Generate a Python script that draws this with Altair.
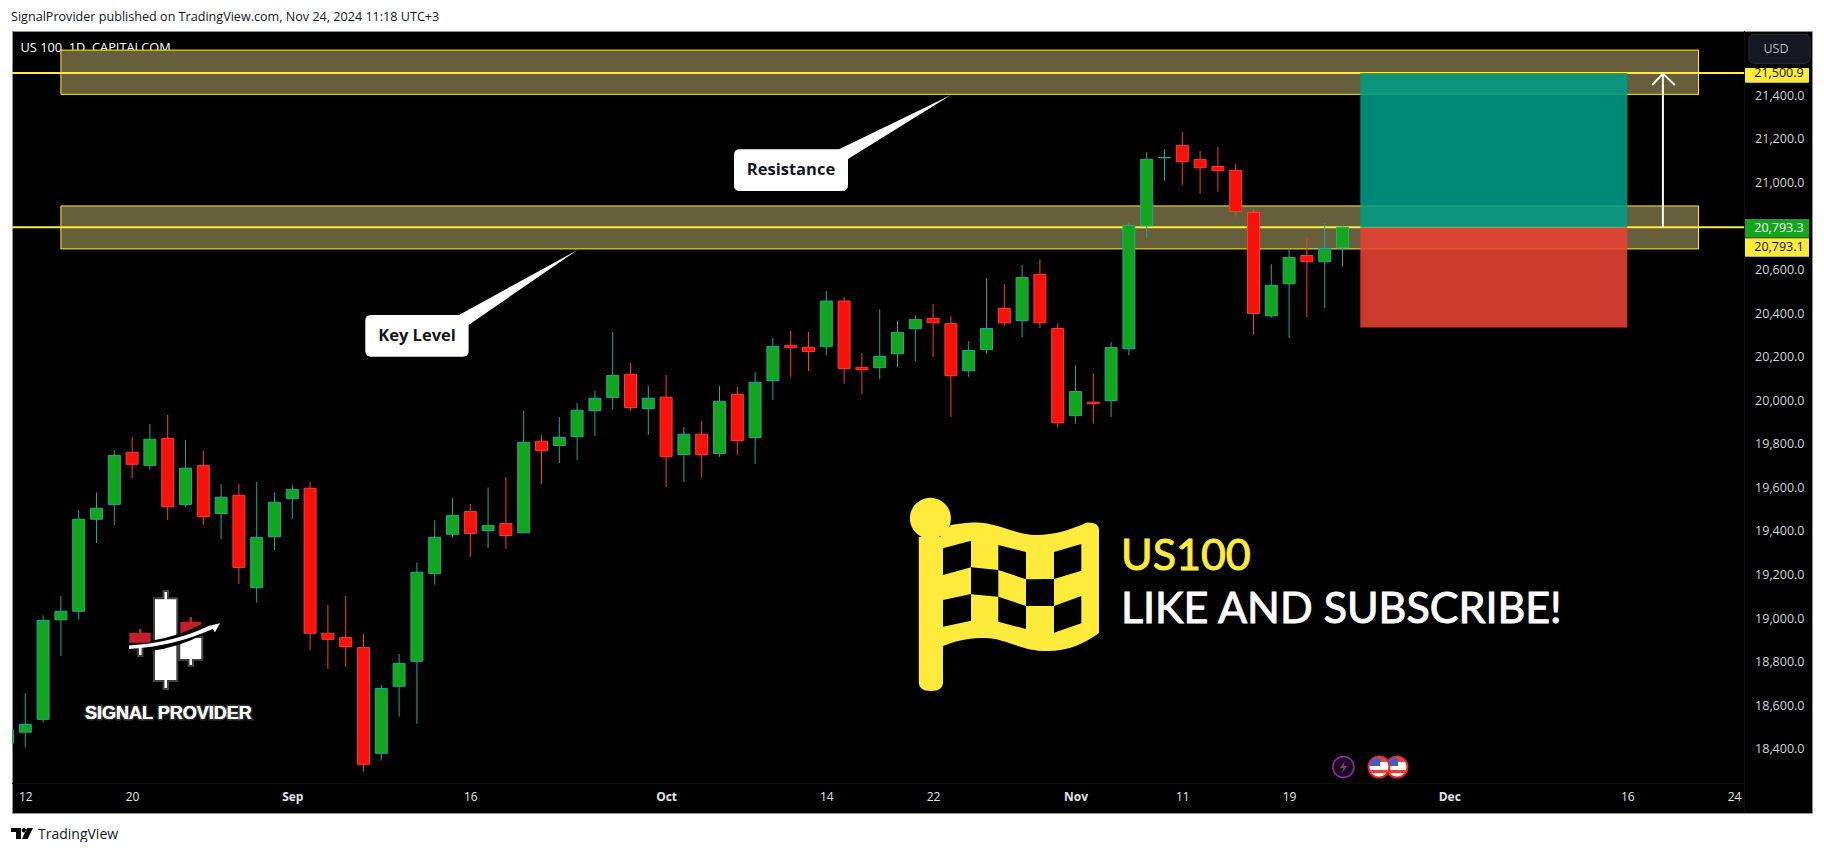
import altair as alt
import pandas as pd

# ---------- data ----------
day_index = list(range(-1, 75))
opens = [18426,18477,18536,18993,19032,19454,19522,19761,19701,19825,19522,19701,19480,19564,19140,19374,19548,19596,18931,18912,18866,18380,18688,18802,19204,19385,19490,19402,19435,19392,19812,19792,19833,19952,20012,20119,19962,20014,19751,19844,19755,20027,19829,20090,20252,20243,20247,20455,20151,20149,20213,20328,20375,20352,20135,20232,20421,20365,20577,20329,19929,19991,19998,20236,20800,21112,21169,21105,21072,21054,20861,20387,20534,20664,20635,20699]
highs = [18510,18655,19013,19102,19495,19577,19770,19831,19891,19932,19818,19767,19616,19616,19625,19577,19611,19625,19061,19102,18928,18694,18836,19256,19449,19551,19524,19600,19648,19951,19841,19923,19988,20043,20313,20171,20066,20116,19877,19905,20066,20061,20130,20286,20318,20313,20501,20473,20217,20417,20363,20389,20441,20386,20271,20560,20533,20620,20647,20352,20160,20124,20267,20817,21138,21152,21230,21143,21161,21083,20877,20624,20696,20748,20813,20800]
lows = [18400,18406,18521,18827,18993,19345,19428,19643,19681,19451,19512,19428,19363,19157,19071,19313,19455,18854,18767,18776,18296,18347,18548,18516,19154,19370,19282,19322,19318,19392,19616,19712,19726,19836,19960,19951,19841,19602,19625,19644,19740,19749,19708,20001,20107,20134,20205,20076,20029,20097,20152,20180,20198,19923,20108,20213,20342,20290,20331,19874,19892,19892,19923,20207,20745,21007,20988,20947,20956,20842,20300,20378,20285,20381,20423,20612]
closes = [18487,18513,18990,19032,19454,19504,19747,19706,19821,19512,19688,19466,19555,19233,19371,19532,19591,18931,18903,18870,18330,18678,18793,19211,19371,19472,19389,19426,19379,19807,19769,19830,19954,20009,20114,19966,20009,19741,19844,19751,19995,19815,20082,20247,20241,20223,20455,20145,20140,20201,20311,20371,20355,20112,20228,20329,20355,20563,20355,19897,20040,19984,20242,20802,21105,21114,21094,21066,21053,20866,20398,20527,20655,20635,20696,20793]

x_ticks = [0,6,15,25,36,45,51,59,65,71,80,90,96]
x_labels = ["12","20","Sep","16","Oct","14","22","Nov","11","19","Dec","16","24"]
month_ticks = [15,36,59,80]
y_ticks = [18400,18600,18800,19000,19200,19400,19600,19800,20000,20200,20400,20600,21000,21200,21400]

zone_left, zone_right = 2, 94
zone_tops = [21606, 20891]
zone_bottoms = [21403, 20694]
level_prices = [21500.9, 20793.3]
pane_left, pane_right = -0.747, 96.56
pos_left, pos_right = 75, 90
pos_target, pos_entry, pos_stop = 21500.9, 20793.3, 20333
arrow_x = [91.4, 92, 92.67]
arrow_y = [21446, 21498, 21446]

# ---------- style ----------
UI = "Open Sans"
YEL = "#FFEB3B"
one = pd.DataFrame({"a": [0]})
X0, Y0 = 12, 31
xs = alt.Scale(domain=[-0.747, 100.376], nice=False, zero=False, padding=0)
ys = alt.Scale(domain=[18106.4, 21693.6], nice=False, zero=False)

def circ(x, y, r):
    return f"M{x-r},{y} A{r},{r} 0 1 0 {x+r},{y} A{r},{r} 0 1 0 {x-r},{y} Z"

def shape(path, fill=None, stroke=None, sw=0.0, opacity=1.0):
    kw = dict(shape=path, size=4, opacity=opacity, strokeWidth=sw)
    if fill:
        kw.update(filled=True, fill=fill)
    else:
        kw.update(filled=False)
    if stroke:
        kw.update(stroke=stroke)
    else:
        kw.update(strokeOpacity=0)
    return alt.Chart(one).mark_point(**kw).encode(x=alt.value(-X0), y=alt.value(-Y0))

def text(t, x, y, size, color, weight="normal", font=UI, align="left", baseline="alphabetic", **kw):
    return alt.Chart(one).mark_text(text=t, fontSize=size, color=color, fontWeight=weight, font=font,
                                    align=align, baseline=baseline, **kw).encode(
        x=alt.value(x - X0), y=alt.value(y - Y0))

def box(x1, y1, x2, y2, fill, **kw):
    return alt.Chart(one).mark_rect(fill=fill, **kw).encode(
        x=alt.value(x1 - X0), x2=alt.value(x2 - X0), y=alt.value(y1 - Y0), y2=alt.value(y2 - Y0))

# every layer carries the same axis: Vega-Lite drops a shared axis if one layer has axis=None
x_axis = alt.Axis(values=x_ticks, title=None, grid=False, ticks=False, domain=False,
                  labelExpr="[" + ",".join(f"'{l}'" for l in x_labels) + "][indexof([" + ",".join(map(str, x_ticks)) + "],datum.value)]",
                  labelColor="#E3E5EA", labelFont=UI, labelFontSize=12, labelPadding=-22, labelOverlap=False, labelFlush=False,
                  labelFontWeight={"condition": {"test": "indexof([" + ",".join(map(str, month_ticks)) + "],datum.value)>=0", "value": "bold"}, "value": "normal"})
y_axis = alt.Axis(values=y_ticks, title=None, grid=False, ticks=False, domain=False, orient="right",
                  format=",.1f", labelAlign="right", labelPadding=-8, labelColor="#D1D4DC", labelFont=UI,
                  labelFontSize=12.5, labelOverlap=False, labelFlush=False)
XQ = lambda f: alt.X(f, scale=xs, axis=x_axis)
YQ = lambda f: alt.Y(f, scale=ys, axis=y_axis)

# ---------- candles ----------
df = pd.DataFrame({"i": day_index, "o": opens, "h": highs, "l": lows, "c": closes})
df["dir"] = ["up" if c >= o else "down" for o, c in zip(opens, closes)]
fills = alt.Scale(domain=["up", "down"], range=["#12A51D", "#F7130B"])
edges = alt.Scale(domain=["up", "down"], range=["#22A696", "#FF3B30"])

wicks = alt.Chart(df).mark_rule(strokeWidth=1, clip=True).encode(
    x=XQ("i:Q"), y=YQ("l:Q"), y2="h:Q",
    stroke=alt.Stroke("dir:N", scale=edges, legend=None))
bodies = alt.Chart(df).mark_bar(size=12, strokeWidth=1, clip=True).encode(
    x=XQ("i:Q"), y=YQ("o:Q"), y2="c:Q",
    fill=alt.Fill("dir:N", scale=fills, legend=None),
    stroke=alt.Stroke("dir:N", scale=edges, legend=None))

# ---------- drawings ----------
zones = alt.Chart(pd.DataFrame({"t": zone_tops, "b": zone_bottoms, "l": [zone_left]*2, "r": [zone_right]*2})).mark_rect(
    fill="#655F3C", stroke=YEL, strokeWidth=1).encode(x=XQ("l:Q"), x2="r:Q", y=YQ("t:Q"), y2="b:Q")
levels = alt.Chart(pd.DataFrame({"p": level_prices, "l": [pane_left]*2, "r": [pane_right]*2})).mark_rule(
    stroke=YEL, strokeWidth=2).encode(x=XQ("l:Q"), x2="r:Q", y=YQ("p:Q"))
def pos_rect(top, bottom, color):
    d = pd.DataFrame({"l": [pos_left], "r": [pos_right], "t": [top], "b": [bottom]})
    return alt.Chart(d).mark_rect(fill=color, opacity=0.88).encode(x=XQ("l:Q"), x2="r:Q", y=YQ("t:Q"), y2="b:Q")
position = [pos_rect(pos_target, pos_entry, "#009D85"), pos_rect(pos_entry, pos_stop, "#E84233")]
arrow_stem = alt.Chart(pd.DataFrame({"x": [arrow_x[1]], "a": [pos_entry], "b": [arrow_y[1]]})).mark_rule(
    stroke="#FFFDE7", strokeWidth=2).encode(x=XQ("x:Q"), y=YQ("a:Q"), y2="b:Q")
arrow_head = alt.Chart(pd.DataFrame({"x": arrow_x, "y": arrow_y})).mark_line(
    stroke="#FFFDE7", strokeWidth=2).encode(x=XQ("x:Q"), y=YQ("y:Q"))

# ---------- callouts ----------
key_path = "M371,315 H459 L577.5,250 L468.6,325 V351 Q468.6,356.7 463,356.7 H371 Q365.3,356.7 365.3,351 V321 Q365.3,315 371,315 Z"
res_path = "M740,149.3 H839 L951,95 L848,159 V185 Q848,191 842,191 H740 Q734,191 734,185 V155 Q734,149.3 740,149.3 Z"

# ---------- flag ----------
fx, fy = 880, 480
def P(pts):
    out = []
    for cmd, coords in pts:
        out.append(cmd + " ".join(f"{fx+c[0]:.1f},{fy+c[1]:.1f}" for c in coords))
    return " ".join(out)
flag_path = P([("M", [(38.8, 57)]), ("L", [(38.8, 202)]), ("Q", [(38.8, 211), (51, 211)]), ("Q", [(63, 211), (63, 202)]),
               ("L", [(63, 166)]), ("C", [(80, 159), (92, 158), (105, 158)]), ("C", [(125, 158), (140, 171), (167, 171)]),
               ("C", [(190, 171), (205, 163), (219, 153)]), ("L", [(219, 50)]), ("Q", [(219, 42), (207, 42.5)]),
               ("C", [(190, 50), (175, 55), (156, 55)]), ("C", [(135, 55), (118, 42.5), (96, 42.5)]),
               ("C", [(85, 42.5), (78, 44), (71, 45)]), ("L", [(60, 57)])]) + " Z " + circ(fx+50.4, fy+38.3, 20.5)
cells = [[(63,68.3),(91,60.7),(91,87.3),(63,95)], [(118.3,65),(146,72),(146,99.3),(118.3,90)],
         [(174,72),(201.3,64),(201.3,90.7),(174,99)], [(91,87.3),(118.3,90),(118.3,116.7),(91,114.3)],
         [(146,99.3),(174,99),(174,126),(146,126)], [(63,120),(91,114),(91,140.7),(63,146.7)],
         [(118.3,116.7),(146,126),(146,149),(118.3,141.7)], [(174,126),(201.3,116),(201.3,143.3),(174,152.7)]]
cells_path = " ".join(P([("M", [c[0]]), ("L", c[1:])]) + " Z" for c in cells)

# ---------- signal provider logo ----------
logo_white = ("M155,599.3 H164.5 V592 H167 V599.3 H176.3 V680 H167 V688 H164.5 V680 H155 Z "
              "M180.3,638 H201.3 V659 H192 V665 H189.5 V659 H180.3 Z "
              "M139,648 H141.5 V655 H139 Z")
logo_red = ("M129.3,632.7 H139 V628.7 H141.5 V632.7 H150.7 V642.7 H129.3 Z "
            "M180.3,621.7 H189.5 V617 H192 V621.7 H201.3 V634 H180.3 Z")
logo_gap = "M150,641 Q178,637 206,622 L206,633 Q178,648 150,651 Z"
logo_curve = "M129,645.5 Q175,642.5 209,625.7 L209.3,625.7 L220,623.3 L215,632.3 L212.5,629 Q175,646 129,649 Z"

# ---------- event icons ----------
def us_flag(x, y):
    return [
        shape(circ(x, y, 10.5), fill="#FFFFFF", stroke="#E5232F", sw=2),
        shape(f"M{x-8},{y-6} Q{x-4},{y-10} {x+1},{y-9.5} V{y-1} H{x-9} Q{x-9},{y-4} {x-8},{y-6} Z", fill="#3D5FC4"),
        shape(f"M{x+1},{y-9.5} Q{x+6},{y-9} {x+8},{y-5} H{x+1} Z M{x-9},{y+3} H{x+9} L{x+8},{y+6} H{x-8} Z", fill="#E5432F"),
    ]
bolt = "M1345,761 L1340,768 H1343.5 L1342,773 L1347,766 H1343.5 Z"

tv_logo = "M11,828 H21 V839 H16 V832 H11 Z " + circ(24, 830.3, 2.3) + " M33,828 L27.5,839 H22 L27,828 Z"

layers = [
    box(1744, 31, 1745, 813, "#0E0E0E"),
    box(12, 783, 1744, 784, "#0E0E0E"),
    text("SignalProvider published on TradingView.com, Nov 24, 2024 11:18 UTC+3", 11, 21, 12.6, "#131722"),
    text("TradingView", 38, 839, 14, "#131722"),
    shape(tv_logo, fill="#000000"),
    text("US 100, 1D, CAPITALCOM", 20.5, 51.5, 12.8, "#FFFFFF"),
    zones, levels, *position, arrow_stem, arrow_head,
    wicks, bodies,
    shape(key_path, fill="#FFFFFF"),
    shape(res_path, fill="#FFFFFF"),
    text("Key Level", 417, 341, 16.5, "#131722", weight="bold", align="center"),
    text("Resistance", 791, 175, 16.5, "#131722", weight="bold", align="center"),
    shape(flag_path, fill=YEL),
    shape(cells_path, fill="#000000"),
    text("US100", 1121, 569.5, 43, YEL, font="Lato", stroke=YEL, strokeWidth=1),
    text("LIKE AND SUBSCRIBE!", 1121, 622.7, 43, "#FFFFFF", font="Lato", stroke="#FFFFFF", strokeWidth=1),
    shape(logo_white, stroke="#FFFFFF", sw=4, opacity=0.25),
    shape(logo_white, fill="#FFFFFF"),
    shape(logo_red, fill="#C1202B"),
    shape(logo_gap, fill="#000000"),
    shape(logo_curve, fill="#FFFFFF"),
    text("SIGNAL PROVIDER", 85, 719, 18, "#FFFFFF", weight="bold", font="Liberation Sans", stroke="#FFFFFF", strokeWidth=3, strokeOpacity=0.2),
    text("SIGNAL PROVIDER", 85, 719, 18, "#FFFFFF", weight="bold", font="Liberation Sans"),
    shape(circ(1343.4, 767, 10.5), fill="#17111C", stroke="#9C27B0", sw=1.5),
    shape(bolt, fill="#9C27B0"),
    *us_flag(1397, 767),
    *us_flag(1379, 767),
    box(1745, 68, 1809, 82.7, YEL, cornerRadius=1),
    box(1745, 219, 1809, 237.7, "#12A51D"),
    box(1745, 238.3, 1809, 256.7, YEL),
    text("21,500.9", 1803.7, 72.7, 12.5, "#131722", align="right", baseline="middle"),
    text("20,793.3", 1803.7, 228, 12.5, "#FFFFFF", align="right", baseline="middle"),
    text("20,793.1", 1803.7, 247, 12.5, "#131722", align="right", baseline="middle"),
    box(1749, 34.3, 1810, 63.3, "#14171F", stroke="#2A2E39", strokeWidth=1, cornerRadius=5),
    text("USD", 1776, 49, 12.5, "#B2B5BE", align="center", baseline="middle"),
]

chart = alt.layer(*layers).properties(
    width=1800, height=782,
    autosize=alt.AutoSizeParams(type="none"),
    padding={"left": 4, "top": 23, "right": 4, "bottom": 29},
    background="#FFFFFF",
).configure_view(fill="#000000", stroke="#8F8F8F", strokeWidth=1)

chart.save("out.html", embed_options={"renderer": "svg", "actions": False})
